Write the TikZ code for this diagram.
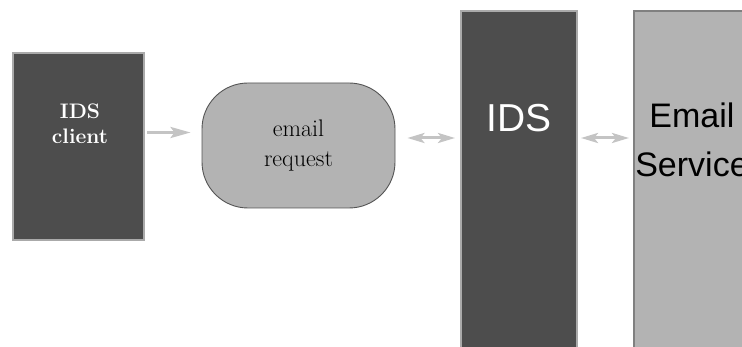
\documentclass[tikz,border=0pt]{standalone}
\usepackage{fontspec}
\newfontfamily\sansf{Liberation Sans}
\usetikzlibrary{arrows.meta,calc}
\definecolor{darkfill}{HTML}{4D4D4D}
\definecolor{midfill}{HTML}{B3B3B3}
\definecolor{liteline}{HTML}{AAAAAA}
\definecolor{greyline}{HTML}{808080}
\definecolor{edgeline}{HTML}{555555}
\definecolor{arrowc}{HTML}{C4C4C4}
\begin{document}
\begin{tikzpicture}[x=1pt,y=-1pt,
  darkbox/.style={draw=liteline,line width=2pt,fill=darkfill,inner sep=0pt},
  lightbox/.style={draw=greyline,line width=2pt,fill=midfill,inner sep=0pt},
  roundbox/.style={draw=edgeline,line width=0.9pt,fill=midfill,rounded corners=46pt,inner sep=0pt},
  conn/.style={draw=arrowc,line width=3pt,-{Stealth[length=20pt,width=11pt,inset=4pt]}},
  dconn/.style={draw=arrowc,line width=3pt,{Stealth[length=17pt,width=10pt,inset=4pt]}-{Stealth[length=17pt,width=10pt,inset=4pt]}},
  serift/.style={font=\fontsize{24}{30}\selectfont,align=center,inner sep=0pt},
  sanst/.style={font=\sansf\fontsize{34}{49}\selectfont,align=center,inner sep=0pt}
]
\useasboundingbox (0,0) rectangle (742,347);
\clip (0,0) rectangle (742,347);
\fill[white] (0,0) rectangle (742,347);

\node[darkbox,minimum width=131pt,minimum height=187pt] (client) at (78.5,146.5) {};
\node[font=\bfseries\fontsize{21}{25}\selectfont,text=white,align=center,inner sep=0pt] (clientt) at (80,124) {IDS\\client};

\node[roundbox,minimum width=193pt,minimum height=125pt,serift] (req) at (298.5,145.5) {email\\request};

\node[darkbox,minimum width=116pt,minimum height=389pt] (ids) at (519,205.5) {};
\node[font=\sansf\fontsize{39}{47}\selectfont,text=white,anchor=base,inner sep=0pt] (idst) at (519.5,132) {IDS};

\node[lightbox,minimum width=116pt,minimum height=389pt] (es) at (692,205.5) {};
\node[sanst] (est) at (692,140) {Email\\Service};

\draw[conn] ($(client.east)+(2,-14)$) -- ($(client.east -| req.west)+(-11,-14)$);
\draw[dconn] ($(req.east)+(12,-7.5)$) -- ($(req.east -| ids.west)+(-5,-7.5)$);
\draw[dconn] ($(ids.east |- req.east)+(3,-7.5)$) -- ($(es.west |- req.east)+(-4,-7.5)$);
\end{tikzpicture}
\end{document}
